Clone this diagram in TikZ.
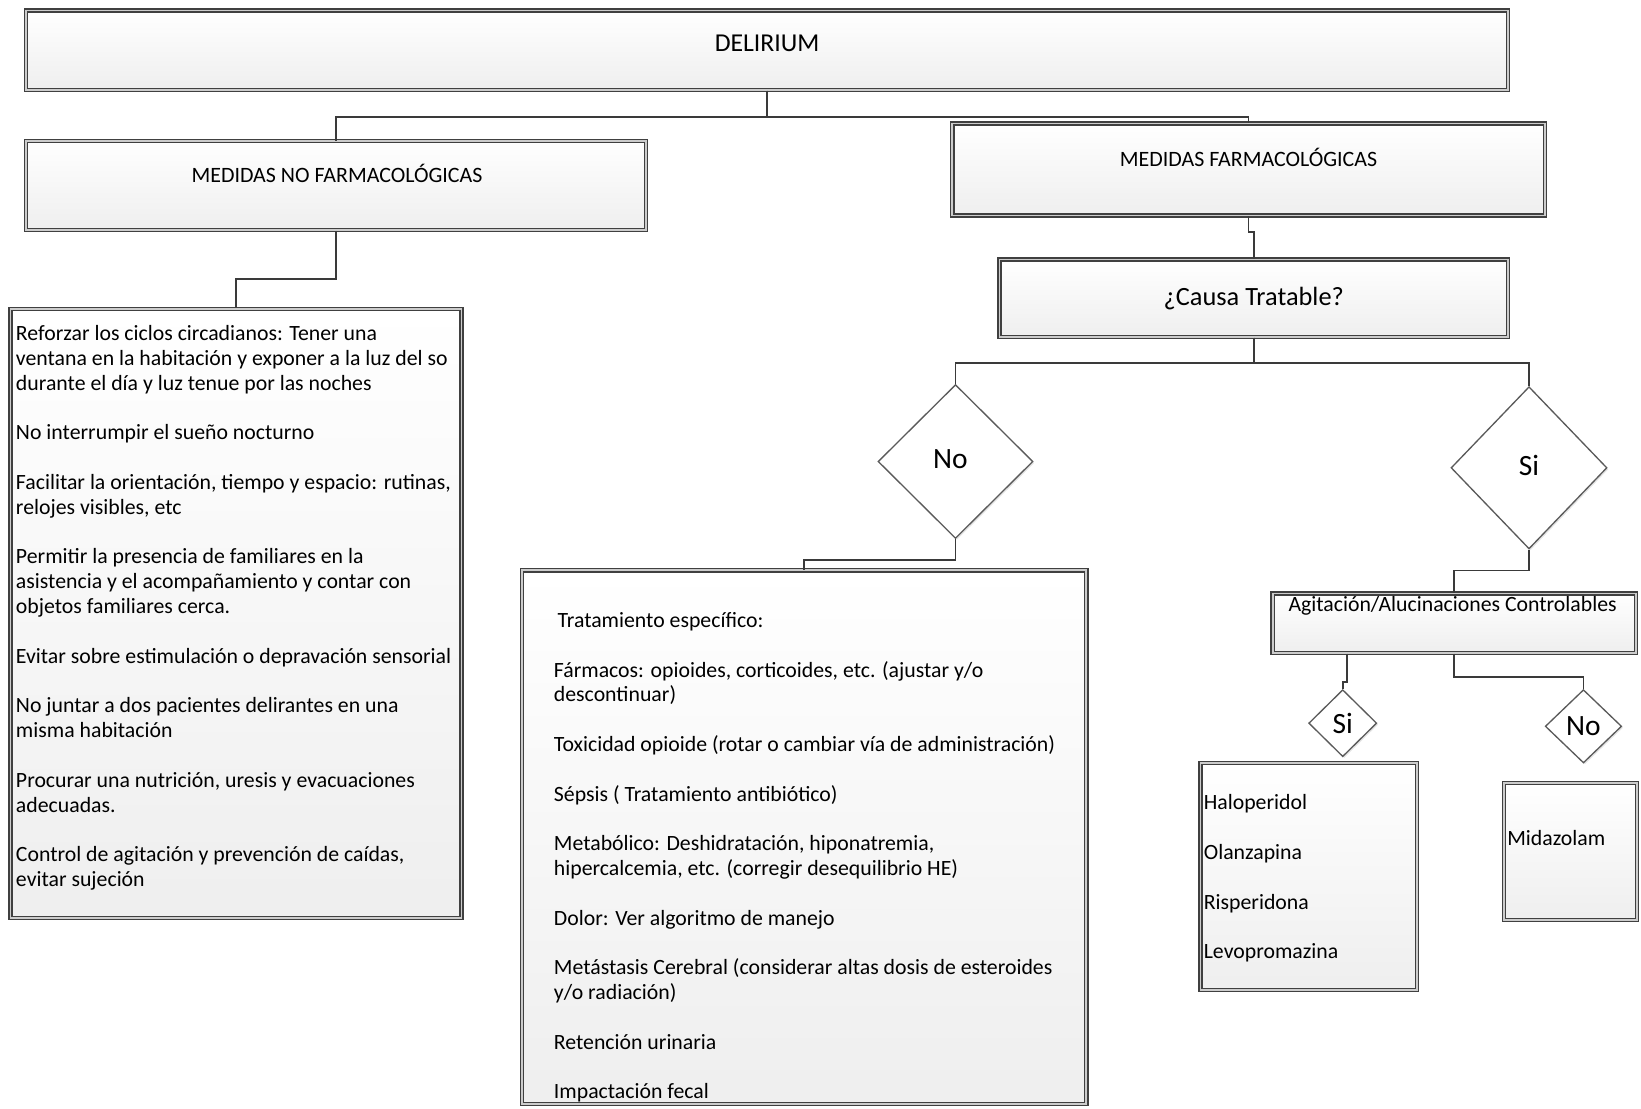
\documentclass[tikz,border=0pt]{standalone}
\usepackage{fontspec}
\setmainfont{Carlito}
\usetikzlibrary{shapes.geometric,fit,calc,shadows}
\definecolor{bordc}{HTML}{404040}
\definecolor{linec}{HTML}{3A3A3A}
\definecolor{diac}{HTML}{5A5A5A}
\begin{document}
\begin{tikzpicture}[x=0.025cm,y=-0.025cm,
  dbox/.style={draw=bordc, line width=0.9pt, double=gray!40, double distance=1.2pt,
    top color=white, bottom color=gray!13, inner sep=0pt,
    drop shadow={opacity=0.12, shadow xshift=1.5pt, shadow yshift=-1.5pt, fill=black}},
  dia/.style={diamond, draw=diac, line width=0.9pt, fill=white, inner sep=0pt,
    font=\fontsize{20}{23}\selectfont,
    drop shadow={opacity=0.1, shadow xshift=1pt, shadow yshift=-1pt, fill=black}},
  head/.style={font=\fontsize{14.9}{17}\selectfont, inner sep=0pt, anchor=center},
  body/.style={font=\fontsize{14.8}{16.86}\selectfont, align=left, anchor=base west, inner sep=0pt},
  conn/.style={draw=linec, line width=1.1pt}
]
\useasboundingbox (0,0) rectangle (1568,1059);

% boxes
\node[dbox, fit={(25,10) (1441,86)}] (del) {};
\node[dbox, fit={(25,135) (617,220)}] (mnf) {};
\node[dbox, fit={(910,118) (1476,206)}] (mf) {};
\node[dbox, fit={(955,248) (1441,322)}] (ct) {};
\node[dbox, fit={(10,295) (441,877)}] (lb) {};
\node[dbox, fit={(499,545) (1038,1055)}] (mb) {};
\node[dbox, fit={(1216,567) (1563,624)}] (ag) {};
\node[dbox, fit={(1147,729) (1354,946)}] (hb) {};
\node[dbox, fit={(1437,748) (1564,879)}] (mz) {};

% diamonds
\node[dia, minimum width=3.7cm, minimum height=3.675cm] (dno) at (913,441) {\raisebox{3pt}{No}\hspace*{7pt}};
\node[dia, minimum width=3.725cm, minimum height=3.875cm] (dsi) at (1461,447) {\raisebox{3pt}{Si}};
\node[dia, minimum width=1.625cm, minimum height=1.6cm] (ssi) at (1283,691) {Si};
\node[dia, minimum width=1.825cm, minimum height=1.75cm] (sno) at (1513,694) {\raisebox{-2pt}{No}};

% headings
\node[head, font=\fontsize{17.5}{20}\selectfont] (delT) at (733,41) {DELIRIUM};
\node[head] (mnfT) at (322,166) {MEDIDAS NO FARMACOLÓGICAS};
\node[head] (mfT) at (1193,150) {MEDIDAS FARMACOLÓGICAS};
\node[head, font=\fontsize{17.9}{20}\selectfont] (ctT) at (1198,285) {¿Causa Tratable?};
\node[head, font=\fontsize{14.8}{17}\selectfont] (agT) at (1388,579) {Agitación/Alucinaciones Controlables};

% texts (anchored at the baseline of their last line)
\node[body] (lbT) at (15,847) {Reforzar los ciclos circadianos: Tener una\\
ventana en la habitación y exponer a la luz del so\\
durante el día y luz tenue por las noches\\[16.86pt]
No interrumpir el sueño nocturno\\[16.86pt]
Facilitar la orientación, tiempo y espacio: rutinas,\\
relojes visibles, etc\\[16.86pt]
Permitir la presencia de familiares en la\\
asistencia y el acompañamiento y contar con\\
objetos familiares cerca.\\[16.86pt]
Evitar sobre estimulación o depravación sensorial\\[16.86pt]
No juntar a dos pacientes delirantes en una\\
misma habitación\\[16.86pt]
Procurar una nutrición, uresis y evacuaciones\\
adecuadas.\\[16.86pt]
Control de agitación y prevención de caídas,\\
evitar sujeción};

\node[body] (mbT) at (529,1050) {\hspace*{2.5pt}Tratamiento específico:\\[16.86pt]
Fármacos: opioides, corticoides, etc. (ajustar y/o\\
descontinuar)\\[16.86pt]
Toxicidad opioide (rotar o cambiar vía de administración)\\[16.86pt]
Sépsis ( Tratamiento antibiótico)\\[16.86pt]
Metabólico: Deshidratación, hiponatremia,\\
hipercalcemia, etc. (corregir desequilibrio HE)\\[16.86pt]
Dolor: Ver algoritmo de manejo\\[16.86pt]
Metástasis Cerebral (considerar altas dosis de esteroides\\
y/o radiación)\\[16.86pt]
Retención urinaria\\[16.86pt]
Impactación fecal};

\node[body] (hbT) at (1150,916) {Haloperidol\\[16.86pt]
Olanzapina\\[16.86pt]
Risperidona\\[16.86pt]
Levopromazina};

\node[body] (mzT) at (1440,808) {Midazolam};

% connectors
\draw[conn] (del.south) -- ++(0,25) -| (mnf.north);
\draw[conn] (del.south) -- ++(0,25) -| (mf.north);
\draw[conn] (mnf.south) -- ++(0,46) -| (lb.north);
\draw[conn] (mf.south) -- ++(0,15) -| (ct.north);
\draw[conn] (ct.south) -- ++(0,24) -| (dno.north);
\draw[conn] (ct.south) -- ++(0,24) -| (dsi.north);
\draw[conn] (dno.south) -- ++(0,20) -| (mb.north);
\draw[conn] (dsi.south) -- ++(0,20) -| (ag.north);
\draw[conn] ($(ssi.north |- ag.south)+(4,0)$) -- ++(0,27) -| (ssi.north);
\draw[conn] (ag.south) -- ++(0,22) -| (sno.north);
\end{tikzpicture}
\end{document}
